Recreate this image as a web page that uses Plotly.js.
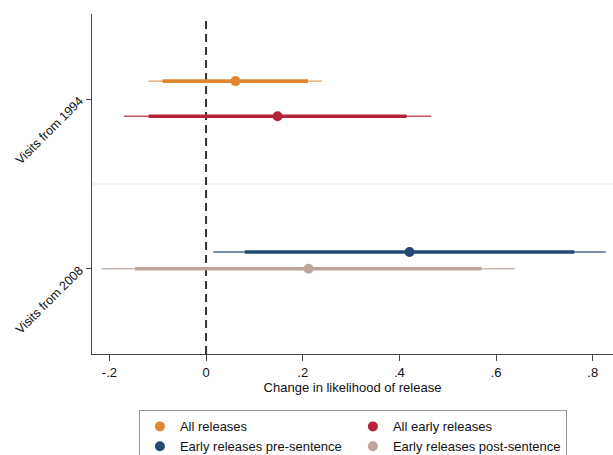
<!DOCTYPE html>
<html>
<head>
<meta charset="utf-8">
<script src="https://cdn.plot.ly/plotly-3.0.1.min.js"></script>
<style>html,body{margin:0;padding:0;background:#fff;}#chart{width:613px;height:455px;}</style>
</head>
<body>
<div id="chart"></div>
<script>
// Groups (y categories)
const groups = ["Visits from 1994", "Visits from 2008"];
// Series
const seriesNames = ["All releases", "All early releases", "Early releases pre-sentence", "Early releases post-sentence"];
const seriesGroup = [0, 0, 1, 1];
const estimates = [0.061, 0.148, 0.421, 0.212];
const ci95Low  = [-0.119, -0.170, 0.015, -0.216];
const ci95High = [0.240, 0.466, 0.827, 0.639];
const ci90Low  = [-0.090, -0.119, 0.080, -0.147];
const ci90High = [0.211, 0.415, 0.762, 0.570];
const xTickVals = [-0.2, 0, 0.2, 0.4, 0.6, 0.8];
const xTickText = ["-.2", "0", ".2", ".4", ".6", ".8"];

// styles
const colors = ["#e0872f", "#b5233b", "#234a72", "#bea59c"];
const yOffsets = [-0.107, 0.100, -0.099, 0.0];

const traces = [];
seriesNames.forEach((name, i) => {
  const y = seriesGroup[i] + 1 + yOffsets[i];
  traces.push({x: [ci95Low[i], ci95High[i]], y: [y, y], mode: "lines", type: "scatter",
    line: {color: colors[i], width: 1.4}, opacity: 0.8, showlegend: false, hoverinfo: "skip"});
  traces.push({x: [ci90Low[i], ci90High[i]], y: [y, y], mode: "lines", type: "scatter",
    line: {color: colors[i], width: 3.6}, showlegend: false, hoverinfo: "skip"});
  traces.push({x: [estimates[i]], y: [y], mode: "markers", type: "scatter", name: name,
    marker: {color: colors[i], size: 10, symbol: "circle"}, showlegend: true});
});

const layout = {
  width: 613, height: 455,
  margin: {l: 92, r: 0, t: 14, b: 101, autoexpand: false},
  paper_bgcolor: "#fff", plot_bgcolor: "#fff",
  font: {family: "Liberation Sans, Arial, sans-serif", size: 13, color: "#111"},
  showlegend: true,
  xaxis: {
    range: [-0.236, 0.842], tickvals: xTickVals, ticktext: xTickText,
    showgrid: false, zeroline: false, showline: true, linecolor: "#444", linewidth: 1,
    ticks: "outside", ticklen: 6, tickcolor: "#444", tickfont: {size: 13},
    title: {text: "Change in likelihood of release", font: {size: 13}, standoff: 0}
  },
  yaxis: {
    range: [2.503, 0.497], tickvals: [1, 2], ticktext: groups, tickangle: -45,
    showgrid: false, zeroline: false, showline: true, linecolor: "#444", linewidth: 1,
    ticks: "outside", ticklen: 5, tickcolor: "#444", tickfont: {size: 12.5},
    ticklabelstandoff: 4
  },
  shapes: [
    {type: "line", xref: "paper", yref: "y", x0: 0, x1: 1, y0: 1.5, y1: 1.5,
     line: {color: "#e6ebf0", width: 1.2}, layer: "below"},
    {type: "line", xref: "x", yref: "paper", x0: 0, x1: 0, y0: 0, y1: 0.985,
     line: {color: "#333", width: 2, dash: "8px,5px"}, layer: "below"}
  ],
  legend: {
    orientation: "h", x: 0.09, xanchor: "left", y: -0.166, yanchor: "top",
    entrywidth: 168, entrywidthmode: "pixels",
    bordercolor: "#999", borderwidth: 1, bgcolor: "#fff",
    font: {size: 13}, tracegroupgap: 0, itemwidth: 30
  }
};

Plotly.newPlot("chart", traces, layout, {displayModeBar: false, staticPlot: true});
</script>
</body>
</html>
